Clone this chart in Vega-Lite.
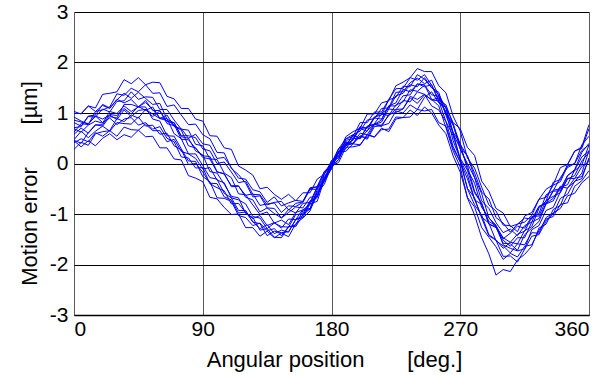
{
"$schema":"https://vega.github.io/schema/vega-lite/v6.json",
"width":515,"height":303,
"autosize":{"type":"none"},
"padding":{"left":74,"top":12,"right":8,"bottom":60},
"background":"white",
"config":{"view":{"stroke":null},
 "axis":{"labelFont":"Liberation Sans","titleFont":"Liberation Sans","labelColor":"#000","titleColor":"#000","labelFontSize":21,"titleFontSize":22,"titleFontWeight":"normal","ticks":false,"domain":false,"grid":true,"gridOpacity":1,"gridWidth":1}},
"datasets":{"curves":[
{"x":0,"k":1,"y":1.03},{"x":5,"k":1,"y":0.98},{"x":10,"k":1,"y":1.14},{"x":15,"k":1,"y":1.10},{"x":20,"k":1,"y":1.37},{"x":25,"k":1,"y":1.39},{"x":30,"k":1,"y":1.42},{"x":35,"k":1,"y":1.66},{"x":40,"k":1,"y":1.58},{"x":45,"k":1,"y":1.70},{"x":50,"k":1,"y":1.56},{"x":55,"k":1,"y":1.61},{"x":60,"k":1,"y":1.60},{"x":65,"k":1,"y":1.33},{"x":70,"k":1,"y":1.28},{"x":75,"k":1,"y":1.09},{"x":80,"k":1,"y":1.09},{"x":85,"k":1,"y":0.88},{"x":90,"k":1,"y":0.84},{"x":95,"k":1,"y":0.55},{"x":100,"k":1,"y":0.54},{"x":105,"k":1,"y":0.31},{"x":110,"k":1,"y":0.28},{"x":115,"k":1,"y":-0.05},{"x":120,"k":1,"y":-0.13},{"x":125,"k":1,"y":-0.23},{"x":130,"k":1,"y":-0.50},{"x":135,"k":1,"y":-0.47},{"x":140,"k":1,"y":-0.61},{"x":145,"k":1,"y":-0.71},{"x":150,"k":1,"y":-0.61},{"x":155,"k":1,"y":-0.74},{"x":160,"k":1,"y":-0.58},{"x":165,"k":1,"y":-0.58},{"x":170,"k":1,"y":-0.31},{"x":175,"k":1,"y":-0.21},{"x":180,"k":1,"y":0.05},{"x":185,"k":1,"y":0.21},{"x":190,"k":1,"y":0.53},{"x":195,"k":1,"y":0.63},{"x":200,"k":1,"y":0.70},{"x":205,"k":1,"y":0.98},{"x":210,"k":1,"y":0.98},{"x":215,"k":1,"y":1.20},{"x":220,"k":1,"y":1.24},{"x":225,"k":1,"y":1.54},{"x":230,"k":1,"y":1.61},{"x":235,"k":1,"y":1.70},{"x":240,"k":1,"y":1.88},{"x":245,"k":1,"y":1.82},{"x":250,"k":1,"y":1.82},{"x":255,"k":1,"y":1.54},{"x":260,"k":1,"y":1.40},{"x":265,"k":1,"y":0.94},{"x":270,"k":1,"y":0.64},{"x":275,"k":1,"y":0.11},{"x":280,"k":1,"y":-0.09},{"x":285,"k":1,"y":-0.47},{"x":290,"k":1,"y":-0.82},{"x":295,"k":1,"y":-0.94},{"x":300,"k":1,"y":-1.22},{"x":305,"k":1,"y":-1.23},{"x":310,"k":1,"y":-1.35},{"x":315,"k":1,"y":-1.04},{"x":320,"k":1,"y":-0.97},{"x":325,"k":1,"y":-0.71},{"x":330,"k":1,"y":-0.51},{"x":335,"k":1,"y":-0.42},{"x":340,"k":1,"y":-0.08},{"x":345,"k":1,"y":-0.02},{"x":350,"k":1,"y":0.25},{"x":355,"k":1,"y":0.30},{"x":360,"k":1,"y":0.69},
{"x":0,"k":2,"y":0.45},{"x":5,"k":2,"y":0.33},{"x":10,"k":2,"y":0.45},{"x":15,"k":2,"y":0.35},{"x":20,"k":2,"y":0.50},{"x":25,"k":2,"y":0.59},{"x":30,"k":2,"y":0.47},{"x":35,"k":2,"y":0.57},{"x":40,"k":2,"y":0.52},{"x":45,"k":2,"y":0.66},{"x":50,"k":2,"y":0.53},{"x":55,"k":2,"y":0.54},{"x":60,"k":2,"y":0.31},{"x":65,"k":2,"y":0.31},{"x":70,"k":2,"y":0.09},{"x":75,"k":2,"y":0.07},{"x":80,"k":2,"y":-0.24},{"x":85,"k":2,"y":-0.29},{"x":90,"k":2,"y":-0.36},{"x":95,"k":2,"y":-0.67},{"x":100,"k":2,"y":-0.70},{"x":105,"k":2,"y":-0.87},{"x":110,"k":2,"y":-1.01},{"x":115,"k":2,"y":-1.00},{"x":120,"k":2,"y":-1.27},{"x":125,"k":2,"y":-1.27},{"x":130,"k":2,"y":-1.44},{"x":135,"k":2,"y":-1.34},{"x":140,"k":2,"y":-1.47},{"x":145,"k":2,"y":-1.38},{"x":150,"k":2,"y":-1.45},{"x":155,"k":2,"y":-1.19},{"x":160,"k":2,"y":-1.08},{"x":165,"k":2,"y":-0.94},{"x":170,"k":2,"y":-0.58},{"x":175,"k":2,"y":-0.41},{"x":180,"k":2,"y":-0.05},{"x":185,"k":2,"y":0.02},{"x":190,"k":2,"y":0.32},{"x":195,"k":2,"y":0.33},{"x":200,"k":2,"y":0.36},{"x":205,"k":2,"y":0.57},{"x":210,"k":2,"y":0.52},{"x":215,"k":2,"y":0.67},{"x":220,"k":2,"y":0.68},{"x":225,"k":2,"y":0.92},{"x":230,"k":2,"y":0.91},{"x":235,"k":2,"y":1.06},{"x":240,"k":2,"y":0.95},{"x":245,"k":2,"y":1.12},{"x":250,"k":2,"y":1.00},{"x":255,"k":2,"y":0.76},{"x":260,"k":2,"y":0.59},{"x":265,"k":2,"y":0.15},{"x":270,"k":2,"y":-0.17},{"x":275,"k":2,"y":-0.67},{"x":280,"k":2,"y":-0.86},{"x":285,"k":2,"y":-1.27},{"x":290,"k":2,"y":-1.46},{"x":295,"k":2,"y":-1.65},{"x":300,"k":2,"y":-1.90},{"x":305,"k":2,"y":-1.78},{"x":310,"k":2,"y":-1.85},{"x":315,"k":2,"y":-1.64},{"x":320,"k":2,"y":-1.61},{"x":325,"k":2,"y":-1.33},{"x":330,"k":2,"y":-1.10},{"x":335,"k":2,"y":-1.05},{"x":340,"k":2,"y":-0.81},{"x":345,"k":2,"y":-0.78},{"x":350,"k":2,"y":-0.45},{"x":355,"k":2,"y":-0.34},{"x":360,"k":2,"y":-0.14},
{"x":0,"k":3,"y":0.71},{"x":5,"k":3,"y":0.73},{"x":10,"k":3,"y":0.93},{"x":15,"k":3,"y":0.92},{"x":20,"k":3,"y":1.08},{"x":25,"k":3,"y":1.02},{"x":30,"k":3,"y":1.23},{"x":35,"k":3,"y":1.24},{"x":40,"k":3,"y":1.42},{"x":45,"k":3,"y":1.27},{"x":50,"k":3,"y":1.32},{"x":55,"k":3,"y":1.31},{"x":60,"k":3,"y":1.07},{"x":65,"k":3,"y":1.07},{"x":70,"k":3,"y":0.86},{"x":75,"k":3,"y":0.68},{"x":80,"k":3,"y":0.66},{"x":85,"k":3,"y":0.38},{"x":90,"k":3,"y":0.35},{"x":95,"k":3,"y":0.09},{"x":100,"k":3,"y":0.08},{"x":105,"k":3,"y":-0.19},{"x":110,"k":3,"y":-0.28},{"x":115,"k":3,"y":-0.60},{"x":120,"k":3,"y":-0.62},{"x":125,"k":3,"y":-0.82},{"x":130,"k":3,"y":-1.01},{"x":135,"k":3,"y":-0.96},{"x":140,"k":3,"y":-1.18},{"x":145,"k":3,"y":-1.12},{"x":150,"k":3,"y":-1.21},{"x":155,"k":3,"y":-0.97},{"x":160,"k":3,"y":-0.92},{"x":165,"k":3,"y":-0.81},{"x":170,"k":3,"y":-0.48},{"x":175,"k":3,"y":-0.35},{"x":180,"k":3,"y":-0.01},{"x":185,"k":3,"y":0.13},{"x":190,"k":3,"y":0.46},{"x":195,"k":3,"y":0.49},{"x":200,"k":3,"y":0.69},{"x":205,"k":3,"y":0.64},{"x":210,"k":3,"y":0.92},{"x":215,"k":3,"y":1.00},{"x":220,"k":3,"y":1.08},{"x":225,"k":3,"y":1.34},{"x":230,"k":3,"y":1.39},{"x":235,"k":3,"y":1.56},{"x":240,"k":3,"y":1.52},{"x":245,"k":3,"y":1.70},{"x":250,"k":3,"y":1.50},{"x":255,"k":3,"y":1.37},{"x":260,"k":3,"y":1.09},{"x":265,"k":3,"y":0.62},{"x":270,"k":3,"y":0.40},{"x":275,"k":3,"y":-0.12},{"x":280,"k":3,"y":-0.39},{"x":285,"k":3,"y":-0.87},{"x":290,"k":3,"y":-1.07},{"x":295,"k":3,"y":-1.26},{"x":300,"k":3,"y":-1.58},{"x":305,"k":3,"y":-1.59},{"x":310,"k":3,"y":-1.72},{"x":315,"k":3,"y":-1.41},{"x":320,"k":3,"y":-1.28},{"x":325,"k":3,"y":-1.15},{"x":330,"k":3,"y":-0.80},{"x":335,"k":3,"y":-0.74},{"x":340,"k":3,"y":-0.47},{"x":345,"k":3,"y":-0.42},{"x":350,"k":3,"y":-0.13},{"x":355,"k":3,"y":0.13},{"x":360,"k":3,"y":0.25},
{"x":0,"k":4,"y":0.47},{"x":5,"k":4,"y":0.64},{"x":10,"k":4,"y":0.51},{"x":15,"k":4,"y":0.64},{"x":20,"k":4,"y":0.74},{"x":25,"k":4,"y":0.64},{"x":30,"k":4,"y":0.81},{"x":35,"k":4,"y":0.79},{"x":40,"k":4,"y":0.78},{"x":45,"k":4,"y":0.92},{"x":50,"k":4,"y":0.74},{"x":55,"k":4,"y":0.76},{"x":60,"k":4,"y":0.58},{"x":65,"k":4,"y":0.60},{"x":70,"k":4,"y":0.35},{"x":75,"k":4,"y":0.27},{"x":80,"k":4,"y":-0.02},{"x":85,"k":4,"y":0.00},{"x":90,"k":4,"y":-0.17},{"x":95,"k":4,"y":-0.39},{"x":100,"k":4,"y":-0.40},{"x":105,"k":4,"y":-0.66},{"x":110,"k":4,"y":-0.72},{"x":115,"k":4,"y":-0.98},{"x":120,"k":4,"y":-0.96},{"x":125,"k":4,"y":-1.15},{"x":130,"k":4,"y":-1.29},{"x":135,"k":4,"y":-1.21},{"x":140,"k":4,"y":-1.39},{"x":145,"k":4,"y":-1.32},{"x":150,"k":4,"y":-1.36},{"x":155,"k":4,"y":-1.11},{"x":160,"k":4,"y":-1.07},{"x":165,"k":4,"y":-0.80},{"x":170,"k":4,"y":-0.75},{"x":175,"k":4,"y":-0.32},{"x":180,"k":4,"y":-0.07},{"x":185,"k":4,"y":0.08},{"x":190,"k":4,"y":0.36},{"x":195,"k":4,"y":0.39},{"x":200,"k":4,"y":0.54},{"x":205,"k":4,"y":0.51},{"x":210,"k":4,"y":0.77},{"x":215,"k":4,"y":0.76},{"x":220,"k":4,"y":0.95},{"x":225,"k":4,"y":1.07},{"x":230,"k":4,"y":1.08},{"x":235,"k":4,"y":1.33},{"x":240,"k":4,"y":1.27},{"x":245,"k":4,"y":1.37},{"x":250,"k":4,"y":1.14},{"x":255,"k":4,"y":1.06},{"x":260,"k":4,"y":0.83},{"x":265,"k":4,"y":0.34},{"x":270,"k":4,"y":0.03},{"x":275,"k":4,"y":-0.49},{"x":280,"k":4,"y":-0.68},{"x":285,"k":4,"y":-1.08},{"x":290,"k":4,"y":-1.43},{"x":295,"k":4,"y":-1.52},{"x":300,"k":4,"y":-1.84},{"x":305,"k":4,"y":-1.83},{"x":310,"k":4,"y":-1.95},{"x":315,"k":4,"y":-1.70},{"x":320,"k":4,"y":-1.44},{"x":325,"k":4,"y":-1.41},{"x":330,"k":4,"y":-1.14},{"x":335,"k":4,"y":-1.00},{"x":340,"k":4,"y":-0.69},{"x":345,"k":4,"y":-0.61},{"x":350,"k":4,"y":-0.35},{"x":355,"k":4,"y":-0.30},{"x":360,"k":4,"y":0.11},
{"x":0,"k":5,"y":0.99},{"x":5,"k":5,"y":0.99},{"x":10,"k":5,"y":1.14},{"x":15,"k":5,"y":1.03},{"x":20,"k":5,"y":1.15},{"x":25,"k":5,"y":1.09},{"x":30,"k":5,"y":1.27},{"x":35,"k":5,"y":1.20},{"x":40,"k":5,"y":1.27},{"x":45,"k":5,"y":1.12},{"x":50,"k":5,"y":1.21},{"x":55,"k":5,"y":1.07},{"x":60,"k":5,"y":0.90},{"x":65,"k":5,"y":0.89},{"x":70,"k":5,"y":0.59},{"x":75,"k":5,"y":0.49},{"x":80,"k":5,"y":0.19},{"x":85,"k":5,"y":0.19},{"x":90,"k":5,"y":-0.04},{"x":95,"k":5,"y":-0.28},{"x":100,"k":5,"y":-0.31},{"x":105,"k":5,"y":-0.59},{"x":110,"k":5,"y":-0.68},{"x":115,"k":5,"y":-0.93},{"x":120,"k":5,"y":-0.93},{"x":125,"k":5,"y":-1.16},{"x":130,"k":5,"y":-1.19},{"x":135,"k":5,"y":-1.43},{"x":140,"k":5,"y":-1.34},{"x":145,"k":5,"y":-1.37},{"x":150,"k":5,"y":-1.35},{"x":155,"k":5,"y":-1.11},{"x":160,"k":5,"y":-1.03},{"x":165,"k":5,"y":-0.77},{"x":170,"k":5,"y":-0.67},{"x":175,"k":5,"y":-0.21},{"x":180,"k":5,"y":0.01},{"x":185,"k":5,"y":0.29},{"x":190,"k":5,"y":0.49},{"x":195,"k":5,"y":0.53},{"x":200,"k":5,"y":0.81},{"x":205,"k":5,"y":0.81},{"x":210,"k":5,"y":1.02},{"x":215,"k":5,"y":1.02},{"x":220,"k":5,"y":1.27},{"x":225,"k":5,"y":1.48},{"x":230,"k":5,"y":1.49},{"x":235,"k":5,"y":1.70},{"x":240,"k":5,"y":1.65},{"x":245,"k":5,"y":1.76},{"x":250,"k":5,"y":1.55},{"x":255,"k":5,"y":1.23},{"x":260,"k":5,"y":1.03},{"x":265,"k":5,"y":0.45},{"x":270,"k":5,"y":0.09},{"x":275,"k":5,"y":-0.50},{"x":280,"k":5,"y":-0.82},{"x":285,"k":5,"y":-1.02},{"x":290,"k":5,"y":-1.41},{"x":295,"k":5,"y":-1.51},{"x":300,"k":5,"y":-1.68},{"x":305,"k":5,"y":-1.56},{"x":310,"k":5,"y":-1.59},{"x":315,"k":5,"y":-1.33},{"x":320,"k":5,"y":-1.25},{"x":325,"k":5,"y":-0.89},{"x":330,"k":5,"y":-0.74},{"x":335,"k":5,"y":-0.37},{"x":340,"k":5,"y":-0.32},{"x":345,"k":5,"y":-0.02},{"x":350,"k":5,"y":0.24},{"x":355,"k":5,"y":0.33},{"x":360,"k":5,"y":0.77},
{"x":0,"k":6,"y":0.28},{"x":5,"k":6,"y":0.42},{"x":10,"k":6,"y":0.36},{"x":15,"k":6,"y":0.59},{"x":20,"k":6,"y":0.63},{"x":25,"k":6,"y":0.65},{"x":30,"k":6,"y":0.89},{"x":35,"k":6,"y":0.83},{"x":40,"k":6,"y":0.96},{"x":45,"k":6,"y":0.90},{"x":50,"k":6,"y":1.07},{"x":55,"k":6,"y":0.98},{"x":60,"k":6,"y":0.89},{"x":65,"k":6,"y":0.96},{"x":70,"k":6,"y":0.73},{"x":75,"k":6,"y":0.69},{"x":80,"k":6,"y":0.50},{"x":85,"k":6,"y":0.58},{"x":90,"k":6,"y":0.39},{"x":95,"k":6,"y":0.36},{"x":100,"k":6,"y":0.10},{"x":105,"k":6,"y":0.12},{"x":110,"k":6,"y":-0.08},{"x":115,"k":6,"y":-0.29},{"x":120,"k":6,"y":-0.31},{"x":125,"k":6,"y":-0.52},{"x":130,"k":6,"y":-0.56},{"x":135,"k":6,"y":-0.77},{"x":140,"k":6,"y":-0.66},{"x":145,"k":6,"y":-0.84},{"x":150,"k":6,"y":-0.78},{"x":155,"k":6,"y":-0.73},{"x":160,"k":6,"y":-0.75},{"x":165,"k":6,"y":-0.48},{"x":170,"k":6,"y":-0.46},{"x":175,"k":6,"y":-0.16},{"x":180,"k":6,"y":-0.01},{"x":185,"k":6,"y":0.23},{"x":190,"k":6,"y":0.43},{"x":195,"k":6,"y":0.39},{"x":200,"k":6,"y":0.55},{"x":205,"k":6,"y":0.48},{"x":210,"k":6,"y":0.73},{"x":215,"k":6,"y":0.75},{"x":220,"k":6,"y":0.79},{"x":225,"k":6,"y":1.04},{"x":230,"k":6,"y":1.00},{"x":235,"k":6,"y":1.16},{"x":240,"k":6,"y":1.07},{"x":245,"k":6,"y":1.31},{"x":250,"k":6,"y":1.42},{"x":255,"k":6,"y":1.20},{"x":260,"k":6,"y":1.11},{"x":265,"k":6,"y":0.81},{"x":270,"k":6,"y":0.69},{"x":275,"k":6,"y":0.32},{"x":280,"k":6,"y":0.16},{"x":285,"k":6,"y":-0.35},{"x":290,"k":6,"y":-0.55},{"x":295,"k":6,"y":-0.89},{"x":300,"k":6,"y":-0.98},{"x":305,"k":6,"y":-1.25},{"x":310,"k":6,"y":-1.20},{"x":315,"k":6,"y":-1.08},{"x":320,"k":6,"y":-1.10},{"x":325,"k":6,"y":-0.85},{"x":330,"k":6,"y":-0.79},{"x":335,"k":6,"y":-0.69},{"x":340,"k":6,"y":-0.45},{"x":345,"k":6,"y":-0.49},{"x":350,"k":6,"y":-0.29},{"x":355,"k":6,"y":-0.26},{"x":360,"k":6,"y":0.10},
{"x":0,"k":7,"y":0.62},{"x":5,"k":7,"y":0.79},{"x":10,"k":7,"y":0.77},{"x":15,"k":7,"y":1.03},{"x":20,"k":7,"y":1.06},{"x":25,"k":7,"y":1.12},{"x":30,"k":7,"y":1.38},{"x":35,"k":7,"y":1.35},{"x":40,"k":7,"y":1.49},{"x":45,"k":7,"y":1.42},{"x":50,"k":7,"y":1.56},{"x":55,"k":7,"y":1.39},{"x":60,"k":7,"y":1.40},{"x":65,"k":7,"y":1.13},{"x":70,"k":7,"y":1.16},{"x":75,"k":7,"y":0.96},{"x":80,"k":7,"y":0.77},{"x":85,"k":7,"y":0.78},{"x":90,"k":7,"y":0.57},{"x":95,"k":7,"y":0.49},{"x":100,"k":7,"y":0.22},{"x":105,"k":7,"y":0.21},{"x":110,"k":7,"y":-0.10},{"x":115,"k":7,"y":-0.22},{"x":120,"k":7,"y":-0.39},{"x":125,"k":7,"y":-0.66},{"x":130,"k":7,"y":-0.64},{"x":135,"k":7,"y":-0.88},{"x":140,"k":7,"y":-0.89},{"x":145,"k":7,"y":-1.08},{"x":150,"k":7,"y":-0.97},{"x":155,"k":7,"y":-0.86},{"x":160,"k":7,"y":-0.88},{"x":165,"k":7,"y":-0.67},{"x":170,"k":7,"y":-0.65},{"x":175,"k":7,"y":-0.26},{"x":180,"k":7,"y":-0.07},{"x":185,"k":7,"y":0.08},{"x":190,"k":7,"y":0.42},{"x":195,"k":7,"y":0.40},{"x":200,"k":7,"y":0.60},{"x":205,"k":7,"y":0.57},{"x":210,"k":7,"y":0.79},{"x":215,"k":7,"y":0.98},{"x":220,"k":7,"y":0.95},{"x":225,"k":7,"y":1.16},{"x":230,"k":7,"y":1.22},{"x":235,"k":7,"y":1.46},{"x":240,"k":7,"y":1.43},{"x":245,"k":7,"y":1.55},{"x":250,"k":7,"y":1.36},{"x":255,"k":7,"y":1.33},{"x":260,"k":7,"y":1.00},{"x":265,"k":7,"y":0.79},{"x":270,"k":7,"y":0.28},{"x":275,"k":7,"y":0.00},{"x":280,"k":7,"y":-0.28},{"x":285,"k":7,"y":-0.74},{"x":290,"k":7,"y":-0.89},{"x":295,"k":7,"y":-1.17},{"x":300,"k":7,"y":-1.37},{"x":305,"k":7,"y":-1.30},{"x":310,"k":7,"y":-1.43},{"x":315,"k":7,"y":-1.23},{"x":320,"k":7,"y":-1.16},{"x":325,"k":7,"y":-0.85},{"x":330,"k":7,"y":-0.79},{"x":335,"k":7,"y":-0.55},{"x":340,"k":7,"y":-0.54},{"x":345,"k":7,"y":-0.24},{"x":350,"k":7,"y":-0.14},{"x":355,"k":7,"y":-0.03},{"x":360,"k":7,"y":0.37},
{"x":0,"k":8,"y":0.41},{"x":5,"k":8,"y":0.49},{"x":10,"k":8,"y":0.43},{"x":15,"k":8,"y":0.61},{"x":20,"k":8,"y":0.54},{"x":25,"k":8,"y":0.65},{"x":30,"k":8,"y":0.54},{"x":35,"k":8,"y":0.72},{"x":40,"k":8,"y":0.67},{"x":45,"k":8,"y":0.66},{"x":50,"k":8,"y":0.78},{"x":55,"k":8,"y":0.65},{"x":60,"k":8,"y":0.65},{"x":65,"k":8,"y":0.43},{"x":70,"k":8,"y":0.48},{"x":75,"k":8,"y":0.24},{"x":80,"k":8,"y":0.19},{"x":85,"k":8,"y":0.10},{"x":90,"k":8,"y":-0.11},{"x":95,"k":8,"y":-0.08},{"x":100,"k":8,"y":-0.33},{"x":105,"k":8,"y":-0.38},{"x":110,"k":8,"y":-0.68},{"x":115,"k":8,"y":-0.72},{"x":120,"k":8,"y":-0.80},{"x":125,"k":8,"y":-1.05},{"x":130,"k":8,"y":-1.08},{"x":135,"k":8,"y":-1.29},{"x":140,"k":8,"y":-1.18},{"x":145,"k":8,"y":-1.25},{"x":150,"k":8,"y":-1.26},{"x":155,"k":8,"y":-1.01},{"x":160,"k":8,"y":-1.00},{"x":165,"k":8,"y":-0.74},{"x":170,"k":8,"y":-0.67},{"x":175,"k":8,"y":-0.30},{"x":180,"k":8,"y":0.02},{"x":185,"k":8,"y":0.12},{"x":190,"k":8,"y":0.39},{"x":195,"k":8,"y":0.46},{"x":200,"k":8,"y":0.70},{"x":205,"k":8,"y":0.70},{"x":210,"k":8,"y":0.90},{"x":215,"k":8,"y":0.88},{"x":220,"k":8,"y":1.14},{"x":225,"k":8,"y":1.20},{"x":230,"k":8,"y":1.47},{"x":235,"k":8,"y":1.42},{"x":240,"k":8,"y":1.57},{"x":245,"k":8,"y":1.56},{"x":250,"k":8,"y":1.27},{"x":255,"k":8,"y":1.14},{"x":260,"k":8,"y":0.71},{"x":265,"k":8,"y":0.25},{"x":270,"k":8,"y":-0.07},{"x":275,"k":8,"y":-0.68},{"x":280,"k":8,"y":-1.02},{"x":285,"k":8,"y":-1.47},{"x":290,"k":8,"y":-1.79},{"x":295,"k":8,"y":-2.21},{"x":300,"k":8,"y":-2.10},{"x":305,"k":8,"y":-2.14},{"x":310,"k":8,"y":-1.91},{"x":315,"k":8,"y":-1.80},{"x":320,"k":8,"y":-1.64},{"x":325,"k":8,"y":-1.28},{"x":330,"k":8,"y":-1.20},{"x":335,"k":8,"y":-0.91},{"x":340,"k":8,"y":-0.83},{"x":345,"k":8,"y":-0.48},{"x":350,"k":8,"y":-0.36},{"x":355,"k":8,"y":-0.19},{"x":360,"k":8,"y":0.26},
{"x":0,"k":9,"y":0.86},{"x":5,"k":9,"y":0.82},{"x":10,"k":9,"y":0.79},{"x":15,"k":9,"y":0.94},{"x":20,"k":9,"y":0.88},{"x":25,"k":9,"y":0.96},{"x":30,"k":9,"y":0.87},{"x":35,"k":9,"y":1.06},{"x":40,"k":9,"y":0.93},{"x":45,"k":9,"y":1.05},{"x":50,"k":9,"y":1.07},{"x":55,"k":9,"y":0.93},{"x":60,"k":9,"y":1.04},{"x":65,"k":9,"y":0.83},{"x":70,"k":9,"y":0.81},{"x":75,"k":9,"y":0.55},{"x":80,"k":9,"y":0.55},{"x":85,"k":9,"y":0.51},{"x":90,"k":9,"y":0.29},{"x":95,"k":9,"y":0.25},{"x":100,"k":9,"y":0.00},{"x":105,"k":9,"y":0.03},{"x":110,"k":9,"y":-0.17},{"x":115,"k":9,"y":-0.38},{"x":120,"k":9,"y":-0.35},{"x":125,"k":9,"y":-0.61},{"x":130,"k":9,"y":-0.62},{"x":135,"k":9,"y":-0.82},{"x":140,"k":9,"y":-0.77},{"x":145,"k":9,"y":-0.75},{"x":150,"k":9,"y":-0.92},{"x":155,"k":9,"y":-0.79},{"x":160,"k":9,"y":-0.76},{"x":165,"k":9,"y":-0.50},{"x":170,"k":9,"y":-0.46},{"x":175,"k":9,"y":-0.16},{"x":180,"k":9,"y":-0.02},{"x":185,"k":9,"y":0.25},{"x":190,"k":9,"y":0.34},{"x":195,"k":9,"y":0.57},{"x":200,"k":9,"y":0.49},{"x":205,"k":9,"y":0.65},{"x":210,"k":9,"y":0.78},{"x":215,"k":9,"y":0.73},{"x":220,"k":9,"y":0.97},{"x":225,"k":9,"y":1.01},{"x":230,"k":9,"y":1.08},{"x":235,"k":9,"y":1.30},{"x":240,"k":9,"y":1.19},{"x":245,"k":9,"y":1.36},{"x":250,"k":9,"y":1.26},{"x":255,"k":9,"y":1.30},{"x":260,"k":9,"y":0.98},{"x":265,"k":9,"y":0.76},{"x":270,"k":9,"y":0.32},{"x":275,"k":9,"y":0.15},{"x":280,"k":9,"y":-0.19},{"x":285,"k":9,"y":-0.57},{"x":290,"k":9,"y":-0.70},{"x":295,"k":9,"y":-1.07},{"x":300,"k":9,"y":-1.18},{"x":305,"k":9,"y":-1.36},{"x":310,"k":9,"y":-1.20},{"x":315,"k":9,"y":-1.16},{"x":320,"k":9,"y":-1.03},{"x":325,"k":9,"y":-0.71},{"x":330,"k":9,"y":-0.67},{"x":335,"k":9,"y":-0.43},{"x":340,"k":9,"y":-0.36},{"x":345,"k":9,"y":-0.05},{"x":350,"k":9,"y":0.00},{"x":355,"k":9,"y":0.26},{"x":360,"k":9,"y":0.37},
{"x":0,"k":10,"y":0.69},{"x":5,"k":10,"y":0.62},{"x":10,"k":10,"y":0.76},{"x":15,"k":10,"y":0.84},{"x":20,"k":10,"y":0.80},{"x":25,"k":10,"y":1.03},{"x":30,"k":10,"y":0.99},{"x":35,"k":10,"y":1.14},{"x":40,"k":10,"y":1.03},{"x":45,"k":10,"y":1.12},{"x":50,"k":10,"y":1.12},{"x":55,"k":10,"y":0.88},{"x":60,"k":10,"y":0.84},{"x":65,"k":10,"y":0.55},{"x":70,"k":10,"y":0.54},{"x":75,"k":10,"y":0.29},{"x":80,"k":10,"y":0.05},{"x":85,"k":10,"y":0.04},{"x":90,"k":10,"y":-0.26},{"x":95,"k":10,"y":-0.36},{"x":100,"k":10,"y":-0.68},{"x":105,"k":10,"y":-0.69},{"x":110,"k":10,"y":-0.75},{"x":115,"k":10,"y":-1.03},{"x":120,"k":10,"y":-1.07},{"x":125,"k":10,"y":-1.23},{"x":130,"k":10,"y":-1.18},{"x":135,"k":10,"y":-1.33},{"x":140,"k":10,"y":-1.29},{"x":145,"k":10,"y":-1.43},{"x":150,"k":10,"y":-1.25},{"x":155,"k":10,"y":-1.22},{"x":160,"k":10,"y":-0.94},{"x":165,"k":10,"y":-0.91},{"x":170,"k":10,"y":-0.63},{"x":175,"k":10,"y":-0.31},{"x":180,"k":10,"y":-0.11},{"x":185,"k":10,"y":0.21},{"x":190,"k":10,"y":0.35},{"x":195,"k":10,"y":0.47},{"x":200,"k":10,"y":0.73},{"x":205,"k":10,"y":0.70},{"x":210,"k":10,"y":0.92},{"x":215,"k":10,"y":0.96},{"x":220,"k":10,"y":1.26},{"x":225,"k":10,"y":1.31},{"x":230,"k":10,"y":1.53},{"x":235,"k":10,"y":1.52},{"x":240,"k":10,"y":1.76},{"x":245,"k":10,"y":1.67},{"x":250,"k":10,"y":1.50},{"x":255,"k":10,"y":1.41},{"x":260,"k":10,"y":0.95},{"x":265,"k":10,"y":0.61},{"x":270,"k":10,"y":0.07},{"x":275,"k":10,"y":-0.22},{"x":280,"k":10,"y":-0.71},{"x":285,"k":10,"y":-1.06},{"x":290,"k":10,"y":-1.18},{"x":295,"k":10,"y":-1.53},{"x":300,"k":10,"y":-1.63},{"x":305,"k":10,"y":-1.77},{"x":310,"k":10,"y":-1.59},{"x":315,"k":10,"y":-1.61},{"x":320,"k":10,"y":-1.37},{"x":325,"k":10,"y":-1.38},{"x":330,"k":10,"y":-1.07},{"x":335,"k":10,"y":-0.98},{"x":340,"k":10,"y":-0.89},{"x":345,"k":10,"y":-0.64},{"x":350,"k":10,"y":-0.59},{"x":355,"k":10,"y":-0.38},{"x":360,"k":10,"y":-0.26},
{"x":0,"k":11,"y":0.46},{"x":5,"k":11,"y":0.40},{"x":10,"k":11,"y":0.61},{"x":15,"k":11,"y":0.77},{"x":20,"k":11,"y":0.74},{"x":25,"k":11,"y":0.93},{"x":30,"k":11,"y":0.90},{"x":35,"k":11,"y":1.17},{"x":40,"k":11,"y":1.17},{"x":45,"k":11,"y":1.12},{"x":50,"k":11,"y":1.25},{"x":55,"k":11,"y":1.05},{"x":60,"k":11,"y":1.05},{"x":65,"k":11,"y":0.79},{"x":70,"k":11,"y":0.75},{"x":75,"k":11,"y":0.66},{"x":80,"k":11,"y":0.35},{"x":85,"k":11,"y":0.31},{"x":90,"k":11,"y":0.12},{"x":95,"k":11,"y":0.09},{"x":100,"k":11,"y":-0.17},{"x":105,"k":11,"y":-0.20},{"x":110,"k":11,"y":-0.46},{"x":115,"k":11,"y":-0.45},{"x":120,"k":11,"y":-0.63},{"x":125,"k":11,"y":-0.60},{"x":130,"k":11,"y":-0.83},{"x":135,"k":11,"y":-0.80},{"x":140,"k":11,"y":-0.78},{"x":145,"k":11,"y":-0.97},{"x":150,"k":11,"y":-0.84},{"x":155,"k":11,"y":-0.85},{"x":160,"k":11,"y":-0.77},{"x":165,"k":11,"y":-0.51},{"x":170,"k":11,"y":-0.51},{"x":175,"k":11,"y":-0.20},{"x":180,"k":11,"y":-0.01},{"x":185,"k":11,"y":0.30},{"x":190,"k":11,"y":0.36},{"x":195,"k":11,"y":0.55},{"x":200,"k":11,"y":0.50},{"x":205,"k":11,"y":0.73},{"x":210,"k":11,"y":0.77},{"x":215,"k":11,"y":0.82},{"x":220,"k":11,"y":1.08},{"x":225,"k":11,"y":1.06},{"x":230,"k":11,"y":1.25},{"x":235,"k":11,"y":1.22},{"x":240,"k":11,"y":1.42},{"x":245,"k":11,"y":1.37},{"x":250,"k":11,"y":1.26},{"x":255,"k":11,"y":1.24},{"x":260,"k":11,"y":0.83},{"x":265,"k":11,"y":0.55},{"x":270,"k":11,"y":0.10},{"x":275,"k":11,"y":-0.13},{"x":280,"k":11,"y":-0.58},{"x":285,"k":11,"y":-0.79},{"x":290,"k":11,"y":-1.20},{"x":295,"k":11,"y":-1.25},{"x":300,"k":11,"y":-1.47},{"x":305,"k":11,"y":-1.56},{"x":310,"k":11,"y":-1.40},{"x":315,"k":11,"y":-1.34},{"x":320,"k":11,"y":-1.07},{"x":325,"k":11,"y":-0.99},{"x":330,"k":11,"y":-0.62},{"x":335,"k":11,"y":-0.54},{"x":340,"k":11,"y":-0.28},{"x":345,"k":11,"y":-0.08},{"x":350,"k":11,"y":0.00},{"x":355,"k":11,"y":0.37},{"x":360,"k":11,"y":0.54},
{"x":0,"k":12,"y":0.92},{"x":5,"k":12,"y":0.84},{"x":10,"k":12,"y":0.78},{"x":15,"k":12,"y":0.94},{"x":20,"k":12,"y":0.81},{"x":25,"k":12,"y":0.90},{"x":30,"k":12,"y":0.77},{"x":35,"k":12,"y":0.88},{"x":40,"k":12,"y":0.91},{"x":45,"k":12,"y":0.76},{"x":50,"k":12,"y":0.81},{"x":55,"k":12,"y":0.68},{"x":60,"k":12,"y":0.73},{"x":65,"k":12,"y":0.50},{"x":70,"k":12,"y":0.43},{"x":75,"k":12,"y":0.13},{"x":80,"k":12,"y":0.11},{"x":85,"k":12,"y":-0.09},{"x":90,"k":12,"y":-0.08},{"x":95,"k":12,"y":-0.40},{"x":100,"k":12,"y":-0.48},{"x":105,"k":12,"y":-0.54},{"x":110,"k":12,"y":-0.80},{"x":115,"k":12,"y":-0.79},{"x":120,"k":12,"y":-0.97},{"x":125,"k":12,"y":-1.09},{"x":130,"k":12,"y":-1.03},{"x":135,"k":12,"y":-1.23},{"x":140,"k":12,"y":-1.17},{"x":145,"k":12,"y":-1.28},{"x":150,"k":12,"y":-1.10},{"x":155,"k":12,"y":-1.11},{"x":160,"k":12,"y":-0.91},{"x":165,"k":12,"y":-0.89},{"x":170,"k":12,"y":-0.56},{"x":175,"k":12,"y":-0.35},{"x":180,"k":12,"y":-0.10},{"x":185,"k":12,"y":0.24},{"x":190,"k":12,"y":0.29},{"x":195,"k":12,"y":0.50},{"x":200,"k":12,"y":0.49},{"x":205,"k":12,"y":0.74},{"x":210,"k":12,"y":0.78},{"x":215,"k":12,"y":0.86},{"x":220,"k":12,"y":1.14},{"x":225,"k":12,"y":1.14},{"x":230,"k":12,"y":1.34},{"x":235,"k":12,"y":1.36},{"x":240,"k":12,"y":1.58},{"x":245,"k":12,"y":1.52},{"x":250,"k":12,"y":1.56},{"x":255,"k":12,"y":1.26},{"x":260,"k":12,"y":1.16},{"x":265,"k":12,"y":0.78},{"x":270,"k":12,"y":0.38},{"x":275,"k":12,"y":0.15},{"x":280,"k":12,"y":-0.27},{"x":285,"k":12,"y":-0.60},{"x":290,"k":12,"y":-1.08},{"x":295,"k":12,"y":-1.22},{"x":300,"k":12,"y":-1.61},{"x":305,"k":12,"y":-1.68},{"x":310,"k":12,"y":-1.73},{"x":315,"k":12,"y":-1.69},{"x":320,"k":12,"y":-1.31},{"x":325,"k":12,"y":-1.23},{"x":330,"k":12,"y":-0.93},{"x":335,"k":12,"y":-0.87},{"x":340,"k":12,"y":-0.56},{"x":345,"k":12,"y":-0.31},{"x":350,"k":12,"y":-0.24},{"x":355,"k":12,"y":0.05},{"x":360,"k":12,"y":0.22},
{"x":0,"k":13,"y":0.58},{"x":5,"k":13,"y":0.70},{"x":10,"k":13,"y":0.60},{"x":15,"k":13,"y":0.76},{"x":20,"k":13,"y":0.77},{"x":25,"k":13,"y":0.97},{"x":30,"k":13,"y":0.95},{"x":35,"k":13,"y":1.09},{"x":40,"k":13,"y":0.98},{"x":45,"k":13,"y":1.13},{"x":50,"k":13,"y":1.05},{"x":55,"k":13,"y":1.12},{"x":60,"k":13,"y":0.89},{"x":65,"k":13,"y":0.85},{"x":70,"k":13,"y":0.77},{"x":75,"k":13,"y":0.48},{"x":80,"k":13,"y":0.47},{"x":85,"k":13,"y":0.30},{"x":90,"k":13,"y":0.15},{"x":95,"k":13,"y":0.14},{"x":100,"k":13,"y":-0.16},{"x":105,"k":13,"y":-0.21},{"x":110,"k":13,"y":-0.44},{"x":115,"k":13,"y":-0.44},{"x":120,"k":13,"y":-0.67},{"x":125,"k":13,"y":-0.72},{"x":130,"k":13,"y":-0.96},{"x":135,"k":13,"y":-0.88},{"x":140,"k":13,"y":-0.99},{"x":145,"k":13,"y":-1.08},{"x":150,"k":13,"y":-0.91},{"x":155,"k":13,"y":-0.98},{"x":160,"k":13,"y":-0.79},{"x":165,"k":13,"y":-0.77},{"x":170,"k":13,"y":-0.46},{"x":175,"k":13,"y":-0.30},{"x":180,"k":13,"y":-0.05},{"x":185,"k":13,"y":0.24},{"x":190,"k":13,"y":0.24},{"x":195,"k":13,"y":0.39},{"x":200,"k":13,"y":0.37},{"x":205,"k":13,"y":0.57},{"x":210,"k":13,"y":0.53},{"x":215,"k":13,"y":0.70},{"x":220,"k":13,"y":0.63},{"x":225,"k":13,"y":0.88},{"x":230,"k":13,"y":0.91},{"x":235,"k":13,"y":0.92},{"x":240,"k":13,"y":1.07},{"x":245,"k":13,"y":1.04},{"x":250,"k":13,"y":1.07},{"x":255,"k":13,"y":0.81},{"x":260,"k":13,"y":0.74},{"x":265,"k":13,"y":0.30},{"x":270,"k":13,"y":0.03},{"x":275,"k":13,"y":-0.30},{"x":280,"k":13,"y":-0.72},{"x":285,"k":13,"y":-0.81},{"x":290,"k":13,"y":-1.15},{"x":295,"k":13,"y":-1.23},{"x":300,"k":13,"y":-1.49},{"x":305,"k":13,"y":-1.38},{"x":310,"k":13,"y":-1.24},{"x":315,"k":13,"y":-1.28},{"x":320,"k":13,"y":-1.05},{"x":325,"k":13,"y":-1.04},{"x":330,"k":13,"y":-0.73},{"x":335,"k":13,"y":-0.65},{"x":340,"k":13,"y":-0.58},{"x":345,"k":13,"y":-0.29},{"x":350,"k":13,"y":-0.30},{"x":355,"k":13,"y":-0.06},{"x":360,"k":13,"y":0.04},
{"x":0,"k":14,"y":0.81},{"x":5,"k":14,"y":0.74},{"x":10,"k":14,"y":0.94},{"x":15,"k":14,"y":0.96},{"x":20,"k":14,"y":1.17},{"x":25,"k":14,"y":1.10},{"x":30,"k":14,"y":1.26},{"x":35,"k":14,"y":1.39},{"x":40,"k":14,"y":1.29},{"x":45,"k":14,"y":1.41},{"x":50,"k":14,"y":1.29},{"x":55,"k":14,"y":1.17},{"x":60,"k":14,"y":1.19},{"x":65,"k":14,"y":0.88},{"x":70,"k":14,"y":0.80},{"x":75,"k":14,"y":0.53},{"x":80,"k":14,"y":0.50},{"x":85,"k":14,"y":0.25},{"x":90,"k":14,"y":0.17},{"x":95,"k":14,"y":-0.16},{"x":100,"k":14,"y":-0.19},{"x":105,"k":14,"y":-0.41},{"x":110,"k":14,"y":-0.65},{"x":115,"k":14,"y":-0.68},{"x":120,"k":14,"y":-0.99},{"x":125,"k":14,"y":-1.07},{"x":130,"k":14,"y":-1.32},{"x":135,"k":14,"y":-1.29},{"x":140,"k":14,"y":-1.46},{"x":145,"k":14,"y":-1.47},{"x":150,"k":14,"y":-1.25},{"x":155,"k":14,"y":-1.25},{"x":160,"k":14,"y":-1.02},{"x":165,"k":14,"y":-0.90},{"x":170,"k":14,"y":-0.52},{"x":175,"k":14,"y":-0.34},{"x":180,"k":14,"y":0.06},{"x":185,"k":14,"y":0.15},{"x":190,"k":14,"y":0.49},{"x":195,"k":14,"y":0.57},{"x":200,"k":14,"y":0.64},{"x":205,"k":14,"y":0.86},{"x":210,"k":14,"y":0.89},{"x":215,"k":14,"y":1.09},{"x":220,"k":14,"y":1.10},{"x":225,"k":14,"y":1.41},{"x":230,"k":14,"y":1.42},{"x":235,"k":14,"y":1.60},{"x":240,"k":14,"y":1.69},{"x":245,"k":14,"y":1.58},{"x":250,"k":14,"y":1.65},{"x":255,"k":14,"y":1.33},{"x":260,"k":14,"y":1.11},{"x":265,"k":14,"y":0.59},{"x":270,"k":14,"y":0.30},{"x":275,"k":14,"y":-0.04},{"x":280,"k":14,"y":-0.55},{"x":285,"k":14,"y":-0.79},{"x":290,"k":14,"y":-1.20},{"x":295,"k":14,"y":-1.27},{"x":300,"k":14,"y":-1.52},{"x":305,"k":14,"y":-1.64},{"x":310,"k":14,"y":-1.47},{"x":315,"k":14,"y":-1.47},{"x":320,"k":14,"y":-1.16},{"x":325,"k":14,"y":-1.09},{"x":330,"k":14,"y":-0.79},{"x":335,"k":14,"y":-0.53},{"x":340,"k":14,"y":-0.50},{"x":345,"k":14,"y":-0.24},{"x":350,"k":14,"y":-0.12},{"x":355,"k":14,"y":0.22},{"x":360,"k":14,"y":0.40}
]},
"data":{"name":"curves"},
"mark":{"type":"line","color":"#0000ff","strokeWidth":1,"clip":true},
"encoding":{
 "x":{"field":"x","type":"quantitative","scale":{"domain":[0,360],"nice":false,"zero":false},
  "axis":{"values":[0,90,180,270,360],"gridColor":"#5a5a5a","labelPadding":3,"domain":true,"domainColor":"#000","domainWidth":1.5,
   "title":"Angular position\u00a0\u00a0\u00a0\u00a0\u00a0\u00a0\u00a0[deg.]","titleX":260,"titleY":51,"titleBaseline":"alphabetic"}},
 "y":{"field":"y","type":"quantitative","scale":{"domain":[-3,3],"nice":false,"zero":false},
  "axis":{"values":[-3,-2,-1,0,1,2,3],"gridColor":"#000","labelPadding":6,
   "labelExpr":"datum.value < 0 ? '-' + abs(datum.value) : '' + datum.value",
   "title":"Motion error\u00a0\u00a0\u00a0\u00a0\u00a0\u00a0\u00a0[µm]","titleX":-38,"titleY":171,"titleBaseline":"alphabetic","titleAngle":-90}},
 "detail":{"field":"k","type":"nominal"}
}
}
